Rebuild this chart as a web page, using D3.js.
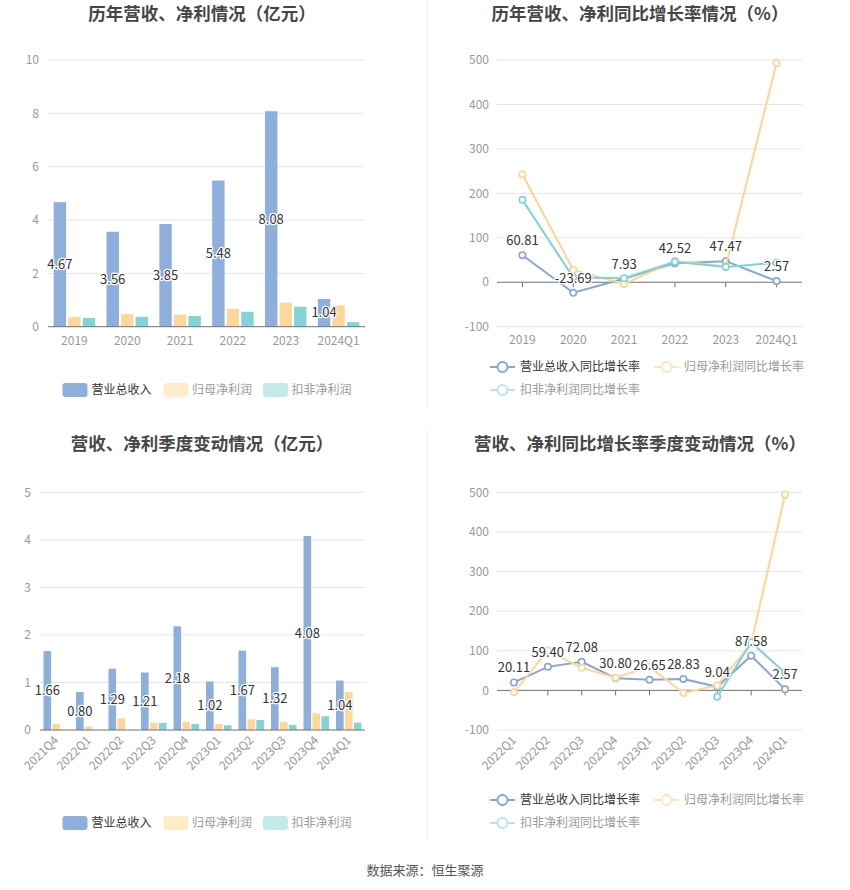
<!DOCTYPE html>
<html><head><meta charset="utf-8">
<script src="https://cdn.jsdelivr.net/npm/d3@7"></script>
<style>
body{margin:0;background:#fff;}
svg{font-family:"Noto Sans CJK SC","Noto Sans",sans-serif;}
</style></head>
<body><svg id="c" width="850" height="890"></svg>
<script>
// ---------- data ----------
const years = ["2019","2020","2021","2022","2023","2024Q1"];
const yearRevenue = [4.67,3.56,3.85,5.48,8.08,1.04];
const yearNetProfit = [0.37,0.47,0.45,0.67,0.90,0.80];
const yearDeducted = [0.33,0.37,0.40,0.56,0.75,0.17];

const yearRevenueGrowth = [60.81,-23.69,7.93,42.52,47.47,2.57];
const yearNetProfitGrowth = [242.5,27.8,-3.8,48,36,493];
const yearDeductedGrowth = [185.4,10.5,9,46,34.5,44];

const quarters = ["2021Q4","2022Q1","2022Q2","2022Q3","2022Q4","2023Q1","2023Q2","2023Q3","2023Q4","2024Q1"];
const qRevenue = [1.66,0.80,1.29,1.21,2.18,1.02,1.67,1.32,4.08,1.04];
const qNetProfit = [0.13,0.07,0.245,0.155,0.17,0.13,0.225,0.17,0.35,0.80];
const qDeducted = [null,null,null,0.147,0.126,0.10,0.21,0.105,0.29,0.154];

const gQuarters = ["2022Q1","2022Q2","2022Q3","2022Q4","2023Q1","2023Q2","2023Q3","2023Q4","2024Q1"];
const qRevenueGrowth = [20.11,59.40,72.08,30.80,26.65,28.83,9.04,87.58,2.57];
const qNetProfitGrowth = [-5,100.7,57,32,60,-6.7,12.6,118,494];
const qDeductedGrowth = [null,null,null,null,null,null,-16,121,44.5];

const barTicksTop = [0,2,4,6,8,10];
const barTicksBottom = [0,1,2,3,4,5];
const pctTicks = [-100,0,100,200,300,400,500];

const barNames = ["营业总收入","归母净利润","扣非净利润"];
const lineNames = ["营业总收入同比增长率","归母净利润同比增长率","扣非净利润同比增长率"];
const titles = ["历年营收、净利情况（亿元）","历年营收、净利同比增长率情况（%）","营收、净利季度变动情况（亿元）","营收、净利同比增长率季度变动情况（%）"];
const source = "数据来源：恒生聚源";

// ---------- style ----------
const barColors = ["#8eaedc","#ffd899","#82d5d6"];
const lineColors = ["#86a6da","#ffd591","#7dd4d3"];
const legendBarColors = ["#8eaedc","#ffecc9","#c3eaea"];
const legendLineColors = ["#86a6da","#ffe6b8","#b9e7e7"];
const legendTextColors = ["#333","#999","#999"];
const gridColor = "#e0e6f1";
const axisColor = "#6e7079";
const labelColor = "#999";

const svg = d3.select("#c");

// titles
const titlePos = [[202,20],[640,20],[202,450],[640,450]];
titles.forEach((t,i)=>{
  svg.append("text").attr("x",titlePos[i][0]).attr("y",titlePos[i][1])
    .attr("text-anchor","middle").attr("font-size",17.5).attr("font-weight","bold")
    .attr("fill","#464646").text(t);
});
// dividers
svg.append("line").attr("x1",427.5).attr("x2",427.5).attr("y1",0).attr("y2",408).attr("stroke","#f0f0f0");
svg.append("line").attr("x1",427.5).attr("x2",427.5).attr("y1",430).attr("y2",840).attr("stroke","#f0f0f0");

// source
svg.append("text").attr("x",425).attr("y",875).attr("text-anchor","middle")
  .attr("font-size",13).attr("fill","#555").text(source);

function halo(sel){
  return sel.attr("stroke","#fff").attr("stroke-width",2.5).attr("paint-order","stroke").attr("stroke-linejoin","round");
}

function barChart(opt){
  const {cats, series, ticks, x0, x1, yTop, yBottom, rotate} = opt;
  const x = d3.scaleBand().domain(cats).range([x0,x1]).padding(0);
  const y = d3.scaleLinear().domain([0, ticks[ticks.length-1]]).range([yBottom,yTop]);
  const g = svg.append("g");
  ticks.forEach(t=>{
    if(t!==0) g.append("line").attr("x1",x0).attr("x2",x1).attr("y1",y(t)).attr("y2",y(t)).attr("stroke",gridColor);
    g.append("text").attr("x",x0-9).attr("y",y(t)).attr("dy","0.35em").attr("text-anchor","end")
      .attr("font-size",12).attr("fill",labelColor).text(t);
  });
  const bw = x.bandwidth()*0.235, gap = x.bandwidth()*0.04;
  const total = 3*bw+2*gap;
  series.forEach((s,si)=>{
    g.selectAll(null).data(cats.map((c,i)=>({c,v:s[i]})).filter(d=>d.v!=null)).enter()
      .append("rect")
      .attr("x",d=>x(d.c)+x.bandwidth()/2-total/2+si*(bw+gap))
      .attr("width",bw)
      .attr("y",d=>y(d.v)).attr("height",d=>y(0)-y(d.v))
      .attr("fill",barColors[si]);
  });
  g.append("line").attr("x1",x0).attr("x2",x1).attr("y1",y(0)).attr("y2",y(0)).attr("stroke",axisColor);
  // labels on revenue
  g.selectAll(null).data(cats.map((c,i)=>({c,v:series[0][i]}))).enter()
    .append("text")
    .attr("x",d=>x(d.c)+x.bandwidth()/2-total/2+bw/2)
    .attr("y",d=>y(d.v/2)).attr("dy","0.35em").attr("text-anchor","middle")
    .attr("font-size",13).attr("fill","#333").text(d=>d.v.toFixed(2))
    .call(halo);
  // x labels
  cats.forEach(c=>{
    const cx = x(c)+x.bandwidth()/2;
    if(rotate){
      g.append("text").attr("transform",`translate(${cx},${yBottom+8}) rotate(-45)`)
        .attr("text-anchor","end").attr("dy","0.35em").attr("font-size",12).attr("fill",labelColor).text(c);
    } else {
      g.append("text").attr("x",cx).attr("y",yBottom+18).attr("text-anchor","middle")
        .attr("font-size",12).attr("fill",labelColor).text(c);
    }
  });
}

function lineChart(opt){
  const {cats, series, ticks, x0, x1, yTop, yBottom, rotate} = opt;
  const x = d3.scaleBand().domain(cats).range([x0,x1]).padding(0);
  const cx = c=>x(c)+x.bandwidth()/2;
  const y = d3.scaleLinear().domain([ticks[0], ticks[ticks.length-1]]).range([yBottom,yTop]);
  const g = svg.append("g");
  ticks.forEach(t=>{
    if(t!==0) g.append("line").attr("x1",x0).attr("x2",x1).attr("y1",y(t)).attr("y2",y(t)).attr("stroke",gridColor);
    g.append("text").attr("x",x0-8).attr("y",y(t)).attr("dy","0.35em").attr("text-anchor","end")
      .attr("font-size",12).attr("fill",labelColor).text(t);
  });
  g.append("line").attr("x1",x0).attr("x2",x1).attr("y1",y(0)).attr("y2",y(0)).attr("stroke",axisColor);
  cats.forEach(c=>{
    g.append("line").attr("x1",cx(c)).attr("x2",cx(c)).attr("y1",y(0)).attr("y2",y(0)+5).attr("stroke",axisColor);
    if(rotate){
      g.append("text").attr("transform",`translate(${cx(c)},${yBottom+8}) rotate(-45)`)
        .attr("text-anchor","end").attr("dy","0.35em").attr("font-size",12).attr("fill",labelColor).text(c);
    } else {
      g.append("text").attr("x",cx(c)).attr("y",yBottom+17).attr("text-anchor","middle")
        .attr("font-size",12).attr("fill",labelColor).text(c);
    }
  });
  const line = d3.line().defined(d=>d.v!=null).x(d=>cx(d.c)).y(d=>y(d.v));
  series.forEach((s,si)=>{
    const data = cats.map((c,i)=>({c,v:s[i]}));
    g.append("path").datum(data).attr("d",line).attr("fill","none")
      .attr("stroke",lineColors[si]).attr("stroke-width",2);
    g.selectAll(null).data(data.filter(d=>d.v!=null)).enter().append("circle")
      .attr("cx",d=>cx(d.c)).attr("cy",d=>y(d.v)).attr("r",3.2)
      .attr("fill","#fff").attr("stroke",lineColors[si]).attr("stroke-width",1.6);
  });
  g.selectAll(null).data(cats.map((c,i)=>({c,v:series[0][i]}))).enter()
    .append("text").attr("x",d=>cx(d.c)).attr("y",d=>y(d.v)-10)
    .attr("text-anchor","middle").attr("font-size",13).attr("fill","#333")
    .text(d=>d.v.toFixed(2)).call(halo);
}

function barLegend(yc){
  const xs = [[62.5,91.5],[163.5,192],[263,291.5]];
  barNames.forEach((n,i)=>{
    svg.append("rect").attr("x",xs[i][0]).attr("y",yc-7).attr("width",25).attr("height",14).attr("rx",3)
      .attr("fill",legendBarColors[i]);
    svg.append("text").attr("x",xs[i][1]).attr("y",yc).attr("dy","0.35em").attr("font-size",12)
      .attr("fill",legendTextColors[i]).text(n);
  });
}
function lineLegend(y1,y2){
  const pos = [[490,y1],[654,y1],[490,y2]];
  lineNames.forEach((n,i)=>{
    const [lx,ly] = pos[i];
    svg.append("line").attr("x1",lx).attr("x2",lx+25).attr("y1",ly).attr("y2",ly)
      .attr("stroke",legendLineColors[i]).attr("stroke-width",2);
    svg.append("circle").attr("cx",lx+12.5).attr("cy",ly).attr("r",5)
      .attr("fill","#fff").attr("stroke",legendLineColors[i]).attr("stroke-width",2);
    svg.append("text").attr("x",lx+30).attr("y",ly).attr("dy","0.35em").attr("font-size",12)
      .attr("fill",legendTextColors[i]).text(n);
  });
}

barChart({cats:years, series:[yearRevenue,yearNetProfit,yearDeducted], ticks:barTicksTop,
  x0:48, x1:365, yTop:60, yBottom:326.7, rotate:false});
lineChart({cats:years, series:[yearRevenueGrowth,yearNetProfitGrowth,yearDeductedGrowth], ticks:pctTicks,
  x0:497, x1:802, yTop:60, yBottom:326.7, rotate:false});
barChart({cats:quarters, series:[qRevenue,qNetProfit,qDeducted], ticks:barTicksBottom,
  x0:40, x1:365, yTop:492.3, yBottom:730, rotate:true});
lineChart({cats:gQuarters, series:[qRevenueGrowth,qNetProfitGrowth,qDeductedGrowth], ticks:pctTicks,
  x0:497, x1:802, yTop:492.3, yBottom:730, rotate:true});

barLegend(390);
lineLegend(367,390);
barLegend(823);
lineLegend(800,823);
</script></body></html>
